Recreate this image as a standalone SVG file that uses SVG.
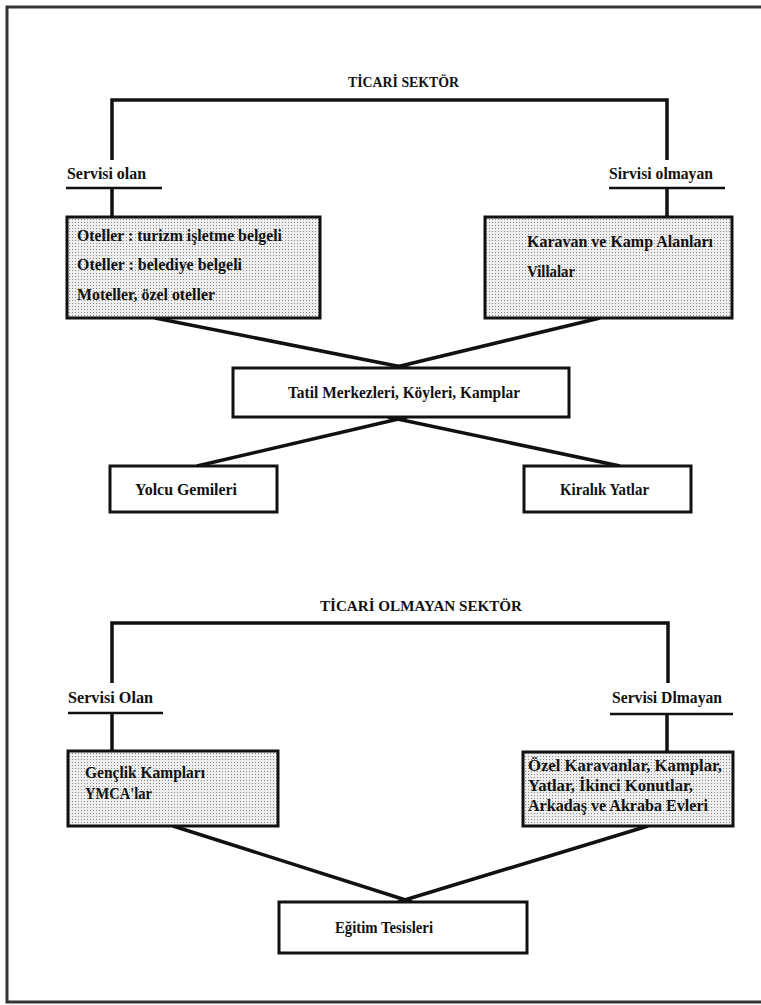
<svg xmlns="http://www.w3.org/2000/svg" width="761" height="1005" viewBox="0 0 761 1005">
<style>
  .t { font-family: "Liberation Serif", "DejaVu Serif", serif; font-weight: bold; font-size: 17px; fill: #111; }
  .h { font-family: "Liberation Serif", "DejaVu Serif", serif; font-weight: bold; font-size: 15px; fill: #111; }
  .box { stroke: #111; stroke-width: 3; }
  .plain { fill: #fff; }
  .stip { fill: url(#stipple); }
  .con { fill: none; stroke: #111; stroke-width: 3.5; stroke-linejoin: miter; }
  .ul { fill: none; stroke: #111; stroke-width: 2.5; }
</style>
<defs>
  <pattern id="stipple" width="3" height="3" patternUnits="userSpaceOnUse">
    <rect width="3" height="3" fill="#eeeeee"/>
    <rect x="0" y="0" width="1" height="1" fill="#888888"/>
  </pattern>
</defs>
<rect width="761" height="1005" fill="#fff"/>
<path d="M761,7 H7 V1002 H761" fill="none" stroke="#333" stroke-width="3"/>

<g id="title-ticari"><text class="h" x="348" y="87" textLength="111" lengthAdjust="spacingAndGlyphs">TİCARİ SEKTÖR</text></g>
<g id="title-ticari-olmayan"><text class="h" x="320" y="611" textLength="202" lengthAdjust="spacingAndGlyphs">TİCARİ OLMAYAN SEKTÖR</text></g>

<g id="connectors">
  <path class="con" d="M112,160 V100 H667 V160"/>
  <path class="ul" d="M66,188 H162"/>
  <path class="ul" d="M609,188 H725"/>
  <path class="con" d="M112,188 V217"/>
  <path class="con" d="M667,188 V217"/>
  <path class="con" d="M155,318 L412,369"/>
  <path class="con" d="M600,318 L388,369"/>
  <path class="con" d="M407,417 L197,466"/>
  <path class="con" d="M388,417 L620,466"/>
  <path class="con" d="M112,683 V623 H668 V683"/>
  <path class="ul" d="M68,713 H163"/>
  <path class="ul" d="M610,714 H733"/>
  <path class="con" d="M112,713 V751"/>
  <path class="con" d="M667,714 V752"/>
  <path class="con" d="M173,826 L412,902"/>
  <path class="con" d="M648,826 L398,902"/>
</g>

<g id="label-servisi-olan"><text class="t" x="67" y="179" textLength="79" lengthAdjust="spacingAndGlyphs">Servisi olan</text></g>
<g id="label-sirvisi-olmayan"><text class="t" x="609" y="179" textLength="104" lengthAdjust="spacingAndGlyphs">Sirvisi olmayan</text></g>

<g id="node-oteller">
  <rect class="box stip" x="67" y="217" width="253" height="101"/>
  <text class="t" x="77" y="241" textLength="205" lengthAdjust="spacingAndGlyphs">Oteller : turizm işletme belgeli</text>
  <text class="t" x="77" y="270" textLength="165" lengthAdjust="spacingAndGlyphs">Oteller : belediye belgeli</text>
  <text class="t" x="77" y="300" textLength="138" lengthAdjust="spacingAndGlyphs">Moteller, özel oteller</text>
</g>

<g id="node-karavan">
  <rect class="box stip" x="485" y="217" width="247" height="101"/>
  <text class="t" x="527" y="247" textLength="186" lengthAdjust="spacingAndGlyphs">Karavan ve Kamp Alanları</text>
  <text class="t" x="527" y="277" textLength="48" lengthAdjust="spacingAndGlyphs">Villalar</text>
</g>

<g id="node-tatil">
  <rect class="box plain" x="233" y="368" width="336" height="49"/>
  <text class="t" x="288" y="398" textLength="232" lengthAdjust="spacingAndGlyphs">Tatil Merkezleri, Köyleri, Kamplar</text>
</g>

<g id="node-yolcu">
  <rect class="box plain" x="110" y="466" width="167" height="46"/>
  <text class="t" x="135" y="495" textLength="102" lengthAdjust="spacingAndGlyphs">Yolcu Gemileri</text>
</g>

<g id="node-kiralik">
  <rect class="box plain" x="524" y="466" width="167" height="46"/>
  <text class="t" x="560" y="495" textLength="89" lengthAdjust="spacingAndGlyphs">Kiralık Yatlar</text>
</g>

<g id="label-servisi-olan-2"><text class="t" x="68" y="703" textLength="85" lengthAdjust="spacingAndGlyphs">Servisi Olan</text></g>
<g id="label-servisi-dlmayan"><text class="t" x="612" y="703" textLength="110" lengthAdjust="spacingAndGlyphs">Servisi Dlmayan</text></g>

<g id="node-genclik">
  <rect class="box stip" x="68" y="751" width="210" height="75"/>
  <text class="t" x="85" y="778" textLength="120" lengthAdjust="spacingAndGlyphs">Gençlik Kampları</text>
  <text class="t" x="85" y="799" textLength="67" lengthAdjust="spacingAndGlyphs">YMCA'lar</text>
</g>

<g id="node-ozel">
  <rect class="box stip" x="523" y="752" width="210" height="74"/>
  <text class="t" x="528" y="771" textLength="194" lengthAdjust="spacingAndGlyphs">Özel Karavanlar, Kamplar,</text>
  <text class="t" x="528" y="791" textLength="165" lengthAdjust="spacingAndGlyphs">Yatlar, İkinci Konutlar,</text>
  <text class="t" x="528" y="811" textLength="180" lengthAdjust="spacingAndGlyphs">Arkadaş ve Akraba Evleri</text>
</g>

<g id="node-egitim">
  <rect class="box plain" x="279" y="902" width="248" height="51"/>
  <text class="t" x="335" y="933" textLength="98" lengthAdjust="spacingAndGlyphs">Eğitim Tesisleri</text>
</g>
</svg>
